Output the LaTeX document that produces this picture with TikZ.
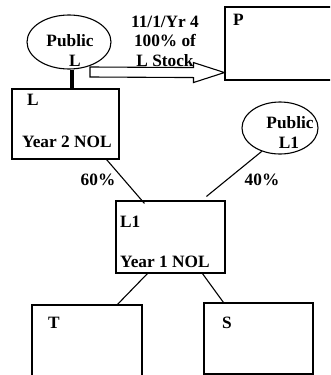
\documentclass[tikz,border=0pt]{standalone}
\usepackage{fontspec}
\setmainfont{Liberation Serif}
\usetikzlibrary{shapes.geometric}
\tikzset{
  box/.style={draw, line width=1.1pt, rectangle, inner sep=0pt},
  oval/.style={draw, line width=1.1pt, ellipse, inner sep=0pt},
  lbl/.style={font=\bfseries\fontsize{17.3}{20}\selectfont, inner sep=0pt},
  conn/.style={line width=1.1pt},
  blockarrow/.style={draw, line width=1.1pt, fill=white, line join=miter},
}
\begin{document}
\begin{tikzpicture}[x=1pt,y=-1pt]
\useasboundingbox (0,0) rectangle (330,375);
\clip (0,0) rectangle (330,375);
% shapes
\node[oval, minimum width=84pt, minimum height=54pt] (PL) at (69,42) {};
\node[oval, minimum width=76pt, minimum height=52pt] (PL1) at (280,128) {};
\node[box, minimum width=107pt, minimum height=70pt] (L) at (65.5,124) {};
\node[box, minimum width=120pt, minimum height=73pt] (P) at (285,43.5) {};
\node[box, minimum width=109pt, minimum height=72pt] (L1) at (170.5,237) {};
\node[box, minimum width=110pt, minimum height=95pt] (T) at (87,352.5) {};
\node[box, minimum width=109pt, minimum height=71pt] (S) at (258.5,338.5) {};
% texts
\node[lbl, anchor=base] (tPL1) at (70,46) {Public};
\node[lbl, anchor=base] (tPL2) at (75,66) {L};
\node[lbl, anchor=base] (tA1) at (165,27) {11/1/Yr 4};
\node[lbl, anchor=base] (tA2) at (165,46) {100\% of};
\node[lbl, anchor=base] (tA3) at (165,66) {L Stock};
\node[lbl, anchor=base west] (tP) at (233,25) {P};
\node[lbl, anchor=base west] (tL) at (27,105) {L};
\node[lbl, anchor=base west] (tLn) at (22,147) {Year 2 NOL};
\node[lbl, anchor=base] (tQ1) at (290,128) {Public};
\node[lbl, anchor=base] (tQ2) at (289,148) {L1};
\node[lbl, anchor=base] (t60) at (98,185) {60\%};
\node[lbl, anchor=base] (t40) at (262,185) {40\%};
\node[lbl, anchor=base west] (tL1) at (120,227) {L1};
\node[lbl, anchor=base west] (tL1n) at (120,267) {Year 1 NOL};
\node[lbl, anchor=base west] (tT) at (48,328) {T};
\node[lbl, anchor=base west] (tS) at (222,328) {S};
% connectors
\draw[line width=4pt] ([xshift=3pt]PL.south) -- ([xshift=3pt]PL.south |- L.north);
\draw[conn] ([xshift=-13pt]L.south east) -- ([xshift=29pt,yshift=-3pt]L1.north west);
\draw[conn] (PL1.232) -- ([xshift=91pt,yshift=4pt]L1.north west);
\draw[conn] ([xshift=32pt]L1.south west) -- ([xshift=86pt]T.north west);
\draw[conn] ([xshift=87pt]L1.south west) -- ([xshift=20pt]S.north west);
% block arrow
\coordinate (as) at (90,72);
\coordinate (tip) at ([yshift=8pt]P.south west);
\draw[blockarrow] ([yshift=5pt]as) -- ([xshift=-31pt,yshift=5pt]tip) -- ([xshift=-31pt,yshift=10pt]tip) -- (tip) -- ([xshift=-31pt,yshift=-10pt]tip) -- ([xshift=-31pt,yshift=-5pt]tip) -- ([yshift=-5pt]as) -- cycle;
\end{tikzpicture}
\end{document}
